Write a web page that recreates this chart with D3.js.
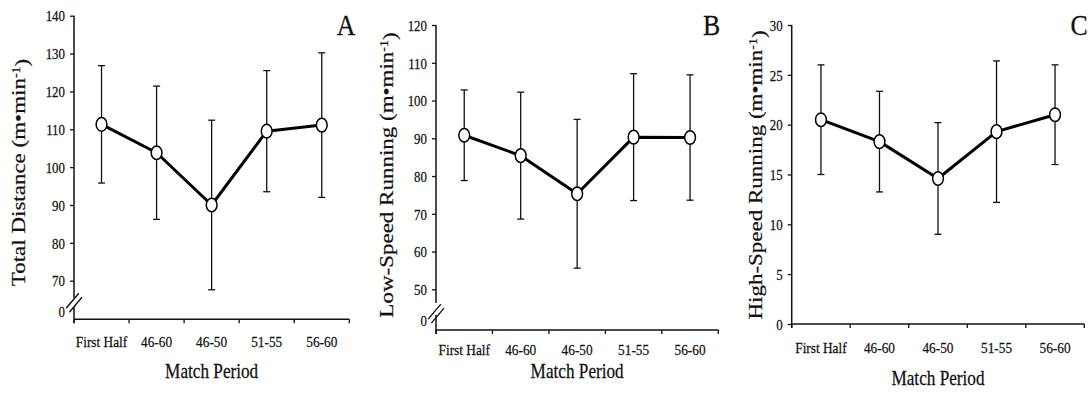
<!DOCTYPE html>
<html>
<head>
<meta charset="utf-8">
<script src="https://cdn.jsdelivr.net/npm/d3@7"></script>
<style>
  html, body { margin: 0; padding: 0; background: #fff; }
  svg { display: block; }
  text { font-family: "Liberation Serif", "Times New Roman", serif; fill: #111; stroke: #111; stroke-width: 0.25px; }
</style>
</head>
<body>
<svg id="chart" width="1091" height="394"></svg>
<script>
// ---- data ----
const categories = ["First Half", "46-60", "46-50", "51-55", "56-60"];
const totalMean = [111.3, 103.8, 90.0, 109.5, 111.1];
const totalSD   = [15.5, 17.6, 22.4, 16.0, 19.1];
const lowMean   = [90.8, 85.4, 75.3, 90.3, 90.2];
const lowSD     = [12.0, 16.8, 19.7, 16.8, 16.6];
const highMean  = [20.5, 18.3, 14.6, 19.3, 21.0];
const highSD    = [5.5, 5.05, 5.6, 7.1, 5.0];
const ticksA = [70, 80, 90, 100, 110, 120, 130, 140];
const ticksB = [50, 60, 70, 80, 90, 100, 110, 120];
const ticksC = [0, 5, 10, 15, 20, 25, 30];
const yTitles = ["Total Distance", "Low-Speed Running", "High-Speed Running"];
const unitText = "(m\u2022min";
const unitSup = "-1";
const panelLetters = ["A", "B", "C"];
const xTitle = "Match Period";
const breakLabel = "0";

// ---- layout ----
const SX = 0.86; // horizontal text compression of the original figure
const panels = [
  { mean: totalMean, sd: totalSD, ticks: ticksA, title: yTitles[0], letter: panelLetters[0],
    left: 74, right: 349.3, yTopPx: 15.7, yBotPx: 280.7, axisY: 319.3,
    brk: { gapTop: 298, gapBot: 307, cy: 302.8, zeroY: 311.7 },
    titleX: 25, titleY: 172.5, letterX: 346, tickLblY: 347, xTitleY: 378 },
  { mean: lowMean, sd: lowSD, ticks: ticksB, title: yTitles[1], letter: panelLetters[1],
    left: 436, right: 718.3, yTopPx: 25, yBotPx: 289.3, axisY: 330,
    brk: { gapTop: 303, gapBot: 315, cy: 313.6, zeroY: 320.7 },
    titleX: 393, titleY: 175, letterX: 711.5, tickLblY: 355, xTitleY: 378 },
  { mean: highMean, sd: highSD, ticks: ticksC, title: yTitles[2], letter: panelLetters[2],
    left: 791.7, right: 1084.3, yTopPx: 25, yBotPx: 324, axisY: 324,
    brk: null,
    titleX: 762, titleY: 175, letterX: 1079, tickLblY: 352.5, xTitleY: 385 }
];

const svg = d3.select("#chart");

function ctext(g, x, y, str, size, anchor) {
  return g.append("text")
    .attr("transform", `translate(${x},${y}) scale(${SX},1)`)
    .attr("text-anchor", anchor || "middle")
    .style("font-size", size + "px")
    .text(str);
}

panels.forEach(p => {
  const g = svg.append("g");
  const x = d3.scaleBand().domain(categories).range([p.left, p.right]).padding(0);
  const y = d3.scaleLinear()
    .domain([d3.min(p.ticks), d3.max(p.ticks)])
    .range([p.yBotPx, p.yTopPx]);

  // y axis ticks + labels
  const ya = g.append("g").attr("transform", `translate(${p.left},0)`)
    .call(d3.axisLeft(y).tickValues(p.ticks).tickSize(4).tickSizeOuter(0).tickFormat(d3.format("d")));
  ya.select(".domain").remove();
  ya.selectAll(".tick line").attr("stroke", "#111").attr("stroke-width", 1.3);
  ya.selectAll(".tick text")
    .attr("x", null)
    .attr("transform", `translate(-9,0) scale(${SX},1)`)
    .attr("dy", "0.35em")
    .style("font-size", "15px")
    .style("font-family", "'Liberation Serif', serif")
    .attr("fill", "#111");

  // y axis line (with break if needed)
  const axStroke = { stroke: "#111", w: 1.5 };
  if (p.brk) {
    g.append("line").attr("x1", p.left).attr("x2", p.left)
      .attr("y1", y.range()[1]).attr("y2", p.brk.gapTop)
      .attr("stroke", axStroke.stroke).attr("stroke-width", axStroke.w);
    g.append("line").attr("x1", p.left).attr("x2", p.left)
      .attr("y1", p.brk.gapBot).attr("y2", p.axisY + 4)
      .attr("stroke", axStroke.stroke).attr("stroke-width", axStroke.w);
    [0, 1].forEach(i => {
      const cx = p.left - 1.5 + 3.2 * i, cy = p.brk.cy - 2 + 4 * i;
      g.append("line")
        .attr("x1", cx - 6.3).attr("y1", cy + 7.5)
        .attr("x2", cx + 6.3).attr("y2", cy - 7.5)
        .attr("stroke", "#111").attr("stroke-width", 1.4);
    });
    ctext(g, p.left - 9, p.brk.zeroY, breakLabel, 15, "end").attr("dy", "0.35em");
  } else {
    g.append("line").attr("x1", p.left).attr("x2", p.left)
      .attr("y1", y.range()[1]).attr("y2", p.axisY + 4)
      .attr("stroke", axStroke.stroke).attr("stroke-width", axStroke.w);
  }

  // x axis
  g.append("line").attr("x1", p.left).attr("x2", p.right)
    .attr("y1", p.axisY).attr("y2", p.axisY)
    .attr("stroke", "#111").attr("stroke-width", 1.5);
  const bounds = categories.map(c => x(c)).concat([x.range()[1]]);
  g.selectAll(".xtick").data(bounds).join("line")
    .attr("x1", d => d).attr("x2", d => d)
    .attr("y1", p.axisY).attr("y2", p.axisY + 4)
    .attr("stroke", "#111").attr("stroke-width", 1.3);
  categories.forEach(c => {
    ctext(g, x(c) + x.bandwidth() / 2, p.tickLblY, c, 15.5, "middle");
  });
  ctext(g, (p.left + p.right) / 2, p.xTitleY, xTitle, 20, "middle");

  // y title
  const t = g.append("text")
    .attr("transform", `translate(${p.titleX},${p.titleY}) scale(${SX},1) rotate(-90)`)
    .attr("text-anchor", "middle")
    .style("font-size", "23px");
  t.append("tspan").text(p.title + " " + unitText);
  t.append("tspan").attr("dy", "-0.45em").style("font-size", "14px").text(unitSup);
  t.append("tspan").attr("dy", "0.45em").text(")");

  // panel letter
  ctext(g, p.letterX, 35, p.letter, 30, "middle");

  const cx = c => x(c) + x.bandwidth() / 2;
  const pts = categories.map((c, i) => ({ c, m: p.mean[i], s: p.sd[i] }));

  // error bars
  const eb = g.append("g").attr("stroke", "#111").attr("stroke-width", 1.3);
  pts.forEach(d => {
    eb.append("line").attr("x1", cx(d.c)).attr("x2", cx(d.c))
      .attr("y1", y(d.m + d.s)).attr("y2", y(d.m - d.s));
    [d.m + d.s, d.m - d.s].forEach(v => {
      eb.append("line").attr("x1", cx(d.c) - 3.5).attr("x2", cx(d.c) + 3.5)
        .attr("y1", y(v)).attr("y2", y(v));
    });
  });

  // line
  g.append("path").datum(pts)
    .attr("d", d3.line().x(d => cx(d.c)).y(d => y(d.m)))
    .attr("fill", "none").attr("stroke", "#000").attr("stroke-width", 3)
    .attr("stroke-linejoin", "round");

  // markers
  g.selectAll(".pt").data(pts).join("ellipse")
    .attr("cx", d => cx(d.c)).attr("cy", d => y(d.m))
    .attr("rx", 5.4).attr("ry", 6.8)
    .attr("fill", "#fff").attr("stroke", "#000").attr("stroke-width", 1.5);
});
</script>
</body>
</html>
